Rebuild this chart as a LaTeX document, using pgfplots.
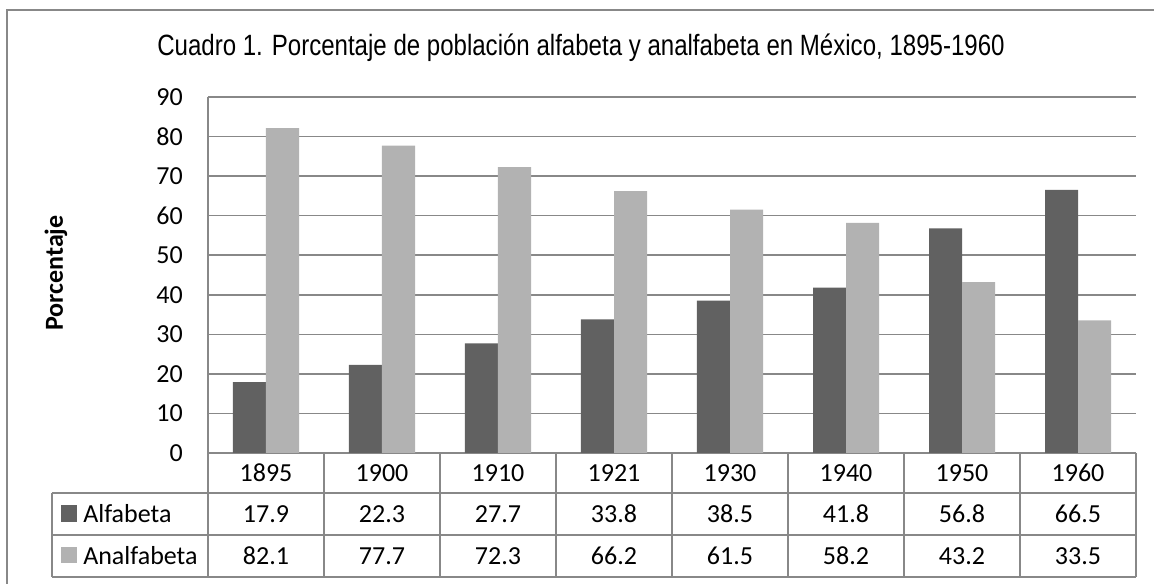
\documentclass[border=0pt]{standalone}
\usepackage{pgfplots}
\pgfplotsset{compat=1.18}
\usepackage{fontspec}
\setmainfont{Carlito}
\newfontfamily\titlefont[FakeStretch=0.82]{Liberation Sans}
\definecolor{dark}{HTML}{616161}
\definecolor{light}{HTML}{B2B2B2}
\definecolor{gridc}{HTML}{888888}
\newcommand{\tfont}{\fontsize{19.5pt}{22pt}\selectfont}
\begin{document}
\begin{tikzpicture}[x=0.75pt,y=0.75pt]
\begin{axis}[
  name=ax,
  scale only axis, width=696pt, height=267pt,
  xmin=-0.5, xmax=7.5, ymin=0, ymax=90,
  ytick={0,10,...,90}, xtick=\empty,
  ymajorgrids, grid style={gridc, line width=1.1pt},
  axis line style={draw=none},
  major tick length=0pt,
  /pgf/number format/assume math mode=true,
  yticklabel style={font=\tfont, anchor=east, inner sep=0pt, xshift=-18.75pt},
  clip=false,
]
\addplot[ybar, bar width=0.2845, bar shift=-0.14225, fill=dark, draw=none]
  coordinates {(0,17.9) (1,22.3) (2,27.7) (3,33.8) (4,38.5) (5,41.8) (6,56.8) (7,66.5)};
\addplot[ybar, bar width=0.2845, bar shift=0.14225, fill=light, draw=none]
  coordinates {(0,82.1) (1,77.7) (2,72.3) (3,66.2) (4,61.5) (5,58.2) (6,43.2) (7,33.5)};
\end{axis}
\begin{scope}[shift={(ax.south west)}, xshift=-156pt, yshift=-98.25pt]
% frame
\draw[gridc, line width=1.3pt] (7,0) -- (7,574) -- (1154,574);
% title
\node[font={\titlefont\fontsize{22pt}{24pt}\selectfont}] at (581,536) {Cuadro 1. Porcentaje de población alfabeta y analfabeta en México, 1895-1960};
% y label
\node[font={\fontsize{19.5pt}{22pt}\selectfont\bfseries}, rotate=90] at (56,311) {Porcentaje};
% table lines
\draw[gridc, line width=1.1pt] (52,91) -- (1136,91) (52,49) -- (1136,49) (52,7) -- (1136,7);
\draw[gridc, line width=1.1pt] (52,91) -- (52,7);
\draw[gridc, line width=1.1pt] (208,487) -- (208,7);
\foreach \k in {1,...,8} {\draw[gridc, line width=1.1pt] ({208+116*\k},131) -- ({208+116*\k},7);}
% legend keys
\fill[dark] (61,62) rectangle (77,79);
\fill[light] (61,21) rectangle (77,37);
\node[font=\tfont, anchor=west, inner sep=0pt] at (83,70) {Alfabeta};
\node[font=\tfont, anchor=west, inner sep=0pt] at (83,28) {Analfabeta};
% years
\foreach \yr [count=\i from 0] in {1895,1900,1910,1921,1930,1940,1950,1960}
  {\node[font=\tfont] at ({266+116*\i},111) {\yr};}
\foreach \v [count=\i from 0] in {17.9,22.3,27.7,33.8,38.5,41.8,56.8,66.5}
  {\node[font=\tfont] at ({266+116*\i},70) {\v};}
\foreach \v [count=\i from 0] in {82.1,77.7,72.3,66.2,61.5,58.2,43.2,33.5}
  {\node[font=\tfont] at ({266+116*\i},28) {\v};}
\pgfresetboundingbox
\useasboundingbox (0,0) rectangle (1154,584);
\end{scope}
\end{tikzpicture}
\end{document}
